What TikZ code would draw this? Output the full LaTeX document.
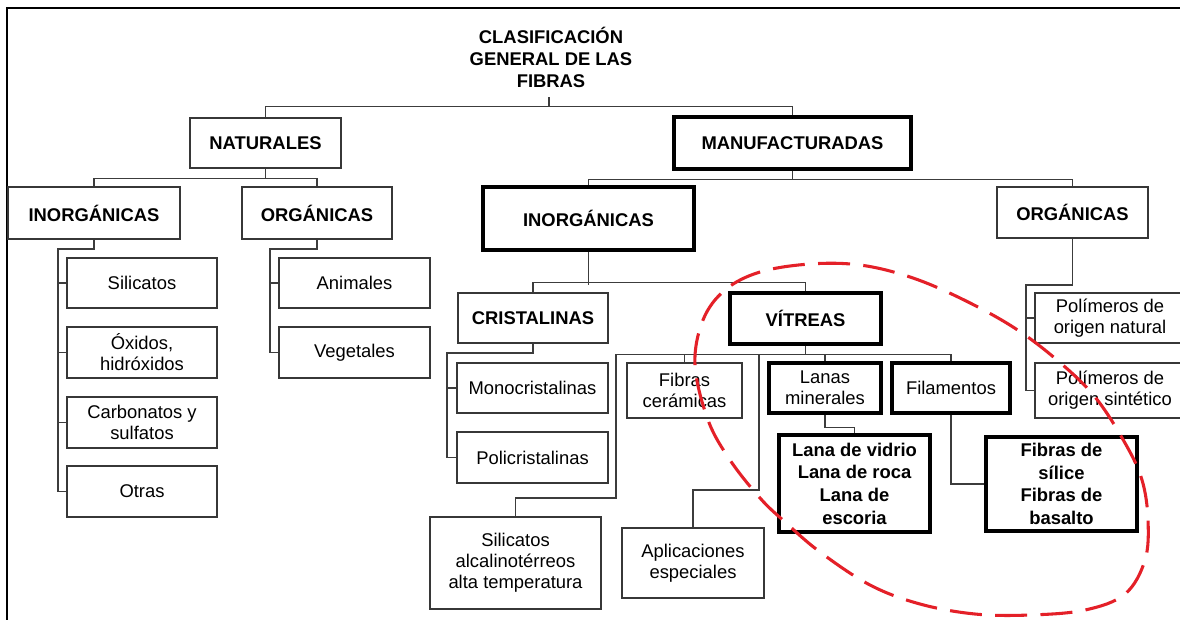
\documentclass[tikz,border=0pt]{standalone}
\usepackage{fontspec}
\setmainfont{Liberation Sans}
\usetikzlibrary{calc}
\definecolor{lc}{RGB}{60,60,60}
\definecolor{bc}{RGB}{55,55,55}
\definecolor{rc}{RGB}{228,32,40}
\begin{document}
\begin{tikzpicture}[x=0.75pt,y=-0.75pt,
  every node/.style={inner sep=0pt, align=center, font=\fontsize{13.8}{15.75}\selectfont},
  sz/.style 2 args={minimum width=#1*0.75pt, minimum height=#2*0.75pt},
  tb/.style={draw=bc, line width=1pt},
  kb/.style={draw=black, line width=2.6pt},
  bt/.style={font=\fontsize{13.8}{17}\selectfont\bfseries},
  conn/.style={draw=lc, line width=0.9pt},
  redring/.style={draw=rc, line width=2.3pt, dash pattern=on 24pt off 10pt}]
\useasboundingbox (0,0) rectangle (1180,619);
\clip (0,0) rectangle (1180,619);
\fill[white] (0,0) rectangle (1180,619);
% frame
\draw[line width=2pt, black] (1190,8) -- (7,8) -- (7,630);
% title
\node[bt, font=\fontsize{13.8}{16.5}\selectfont\bfseries] (title) at (551,57) {CLASIFICACIÓN\\GENERAL DE LAS\\FIBRAS};
\coordinate (ts) at (549,97);
% level 1
\node[tb, bt, sz={151}{50}] (NAT) at (265.5,143) {NATURALES};
\node[kb, bt, sz={237}{52}] (MAN) at (792.5,143) {MANUFACTURADAS};
% level 2
\node[tb, bt, sz={172}{52}] (INn) at (94,213) {INORGÁNICAS};
\node[tb, bt, sz={150}{52}] (ORn) at (317,213) {ORGÁNICAS};
\node[kb, bt, sz={211}{63}] (INm) at (588.5,218.5) {INORGÁNICAS};
\node[tb, bt, sz={151}{51}] (ORm) at (1072.5,212.5) {ORGÁNICAS};
% natural inorganic
\node[tb, sz={150}{50}] (Sil) at (142,283) {Silicatos};
\node[tb, sz={150}{51}] (Oxi) at (142,352.5) {Óxidos,\\hidróxidos};
\node[tb, sz={150}{51}] (Car) at (142,422.5) {Carbonatos y\\sulfatos};
\node[tb, sz={150}{51}] (Otr) at (142,491.5) {Otras};
% natural organic
\node[tb, sz={151}{50}] (Ani) at (354.5,283) {Animales};
\node[tb, sz={151}{51}] (Veg) at (354.5,352.5) {Vegetales};
% manufactured inorganic
\node[tb, bt, sz={150}{50}] (CRIS) at (533,318) {CRISTALINAS};
\node[kb, bt, sz={151}{51}] (VIT) at (805.5,318.5) {VÍTREAS};
\node[tb, sz={151}{50}] (Mono) at (532.5,388) {Monocristalinas};
\node[tb, sz={151}{51}] (Poli) at (532.5,457.5) {Policristalinas};
\node[tb, sz={115}{55}] (FibCer) at (684.5,390.5) {Fibras\\cerámicas};
\node[kb, sz={112}{50}] (LanMin) at (825,388) {Lanas\\minerales};
\node[kb, sz={118}{50}] (Filam) at (951,388) {Filamentos};
\node[kb, bt, sz={151}{97}] (LanaV) at (854.5,483.5) {Lana de vidrio\\Lana de roca\\Lana de\\escoria};
\node[kb, bt, sz={151}{94}] (FibS) at (1061.5,484) {Fibras de\\sílice\\Fibras de\\basalto};
\node[tb, sz={171}{92}] (SilAlc) at (515.5,563) {Silicatos\\alcalinotérreos\\alta temperatura};
\node[tb, sz={142}{70}] (Aplic) at (693,563) {Aplicaciones\\especiales};
% manufactured organic
\node[tb, sz={150}{50}] (PolN) at (1110,318) {Polímeros de\\origen natural};
\node[tb, sz={150}{55}] (PolS) at (1110,390.5) {Polímeros de\\origen sintético};
% connectors
\draw[conn] (ts) -- ++(0,10);
\draw[conn] (NAT.north) -- ++(0,-11) -| (MAN.north);
\draw[conn] (NAT.south) -- ++(0,10) -| (INn.north);
\draw[conn] (NAT.south) -- ++(0,10) -| (ORn.north);
\draw[conn] (MAN.south) -- ++(0,9) -| (INm.north);
\draw[conn] (MAN.south) -- ++(0,9) -| (ORm.north);
\coordinate (ina) at (58,249);
\draw[conn] (INn.south) |- (ina) |- (Otr.west);
\foreach \n in {Sil,Oxi,Car} \draw[conn] (ina |- \n.west) -- (\n.west);
\coordinate (ora) at (270,249);
\draw[conn] (ORn.south) |- (ora) |- (Veg.west);
\draw[conn] (ora |- Ani.west) -- (Ani.west);
\draw[conn] (INm.south) -- ++(0,33);
\draw[conn] (CRIS.north) -- ++(0,-10) -| (VIT.north);
\coordinate (cra) at (447,353);
\draw[conn] (CRIS.south) |- (cra) |- (Poli.west);
\draw[conn] (cra |- Mono.west) -- (Mono.west);
\draw[conn] (VIT.south) -- ++(0,9) coordinate (vb);
\draw[conn] (vb) -| (FibCer.north);
\draw[conn] (vb) -| (LanMin.north);
\draw[conn] (vb) -| (Filam.north);
\draw[conn] (vb) -| (616,498) -| (SilAlc.north);
\draw[conn] (vb) -| (759,490) -| (Aplic.north);
\draw[conn] (LanMin.south) -- ++(0,13) -| (LanaV.north);
\draw[conn] (Filam.south) |- (FibS.west);
\coordinate (oma) at (1026,285);
\draw[conn] (ORm.south) |- (oma) |- (PolS.west);
\draw[conn] (oma |- PolN.west) -- (PolN.west);
% red dashed ring
\draw[redring] plot[smooth cycle, tension=0.6] coordinates {
 (695,365) (703,320) (725,290) (760,272) (810,264) (860,265) (910,277)
 (960,298) (1013,327) (1057,360) (1095,397) (1125,443) (1142,480)
 (1148,520) (1145,560) (1125,594) (1085,610) (1030,615) (975,614)
 (920,604) (870,585) (820,552) (785,522) (760,498) (730,460) (708,420)};
\end{tikzpicture}
\end{document}
